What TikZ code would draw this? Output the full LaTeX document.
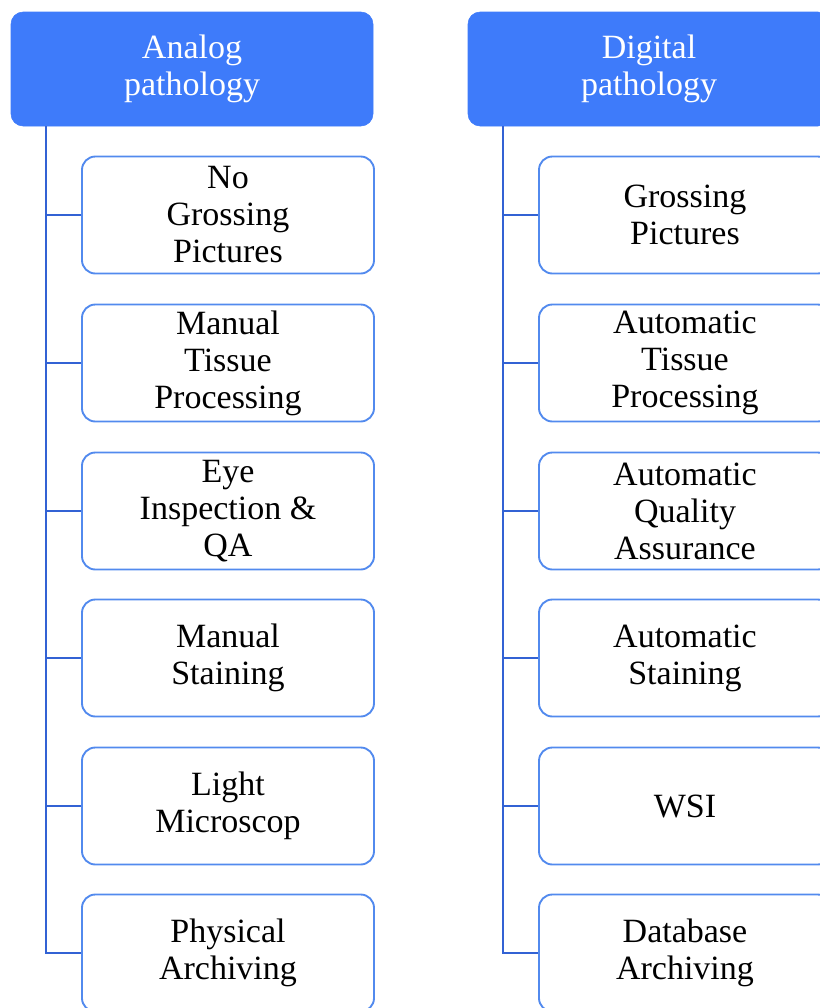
\documentclass[tikz,border=0pt]{standalone}
\usepackage{fontspec}
\setmainfont{Liberation Serif}
\usepackage{tikz}
\definecolor{headblue}{RGB}{62,123,250}
\definecolor{boxblue}{RGB}{82,138,238}
\definecolor{linkblue}{RGB}{50,98,212}
\tikzset{
  header/.style={draw=headblue, fill=headblue, rounded corners=9pt,
    minimum width=271.5pt, minimum height=85.5pt, align=center,
    text=white, font=\fontsize{25.5}{27.5}\selectfont},
  stage/.style={draw=boxblue, line width=1.4pt, fill=white, rounded corners=10pt,
    minimum width=219pt, minimum height=87.75pt, align=center,
    font=\fontsize{25.5}{27.75}\selectfont},
  link/.style={draw=linkblue, line width=1.6pt}
}
\begin{document}
\begin{tikzpicture}[x=0.75pt, y=-0.75pt]
	\useasboundingbox (0,0) rectangle (820,1008);

	%% Column heads
	\node[header] (analog) at (192,69) {Analog\\pathology};
	\node[header] (digital) at (649,69) {Digital\\pathology};
	\coordinate (spineA) at (46,126);
	\coordinate (spineD) at (503,126);

	% Analog stages
	\node[stage] (a1) at (228,215) {No\\Grossing\\Pictures};
	\node[stage] (a2) at (228,363) {Manual\\Tissue\\Processing};
	\node[stage] (a3) at (228,511) {Eye\\Inspection \&\\QA};
	\node[stage] (a4) at (228,658) {Manual\\Staining};
	\node[stage] (a5) at (228,806) {Light\\Microscop};
	\node[stage] (a6) at (228,953) {Physical\\Archiving};

	% Digital stages
	\node[stage] (d1) at (685,215) {Grossing\\Pictures};
	\node[stage] (d2) at (685,363) {Automatic\\Tissue\\Processing};
	\node[stage] (d3) at (685,511) {Automatic\\Quality\\Assurance};
	\node[stage] (d4) at (685,658) {Automatic\\Staining};
	\node[stage] (d5) at (685,806) {WSI};
	\node[stage] (d6) at (685,953) {Database\\Archiving};

	%% Tree lines
	\draw[link] (spineA) |- (a6.west);
	\draw[link] (spineD) |- (d6.west);
	\foreach \i in {1,...,5} {
		\draw[link] (a\i.west) -- (a\i.west -| spineA);
		\draw[link] (d\i.west) -- (d\i.west -| spineD);
	}
\end{tikzpicture}
\end{document}
